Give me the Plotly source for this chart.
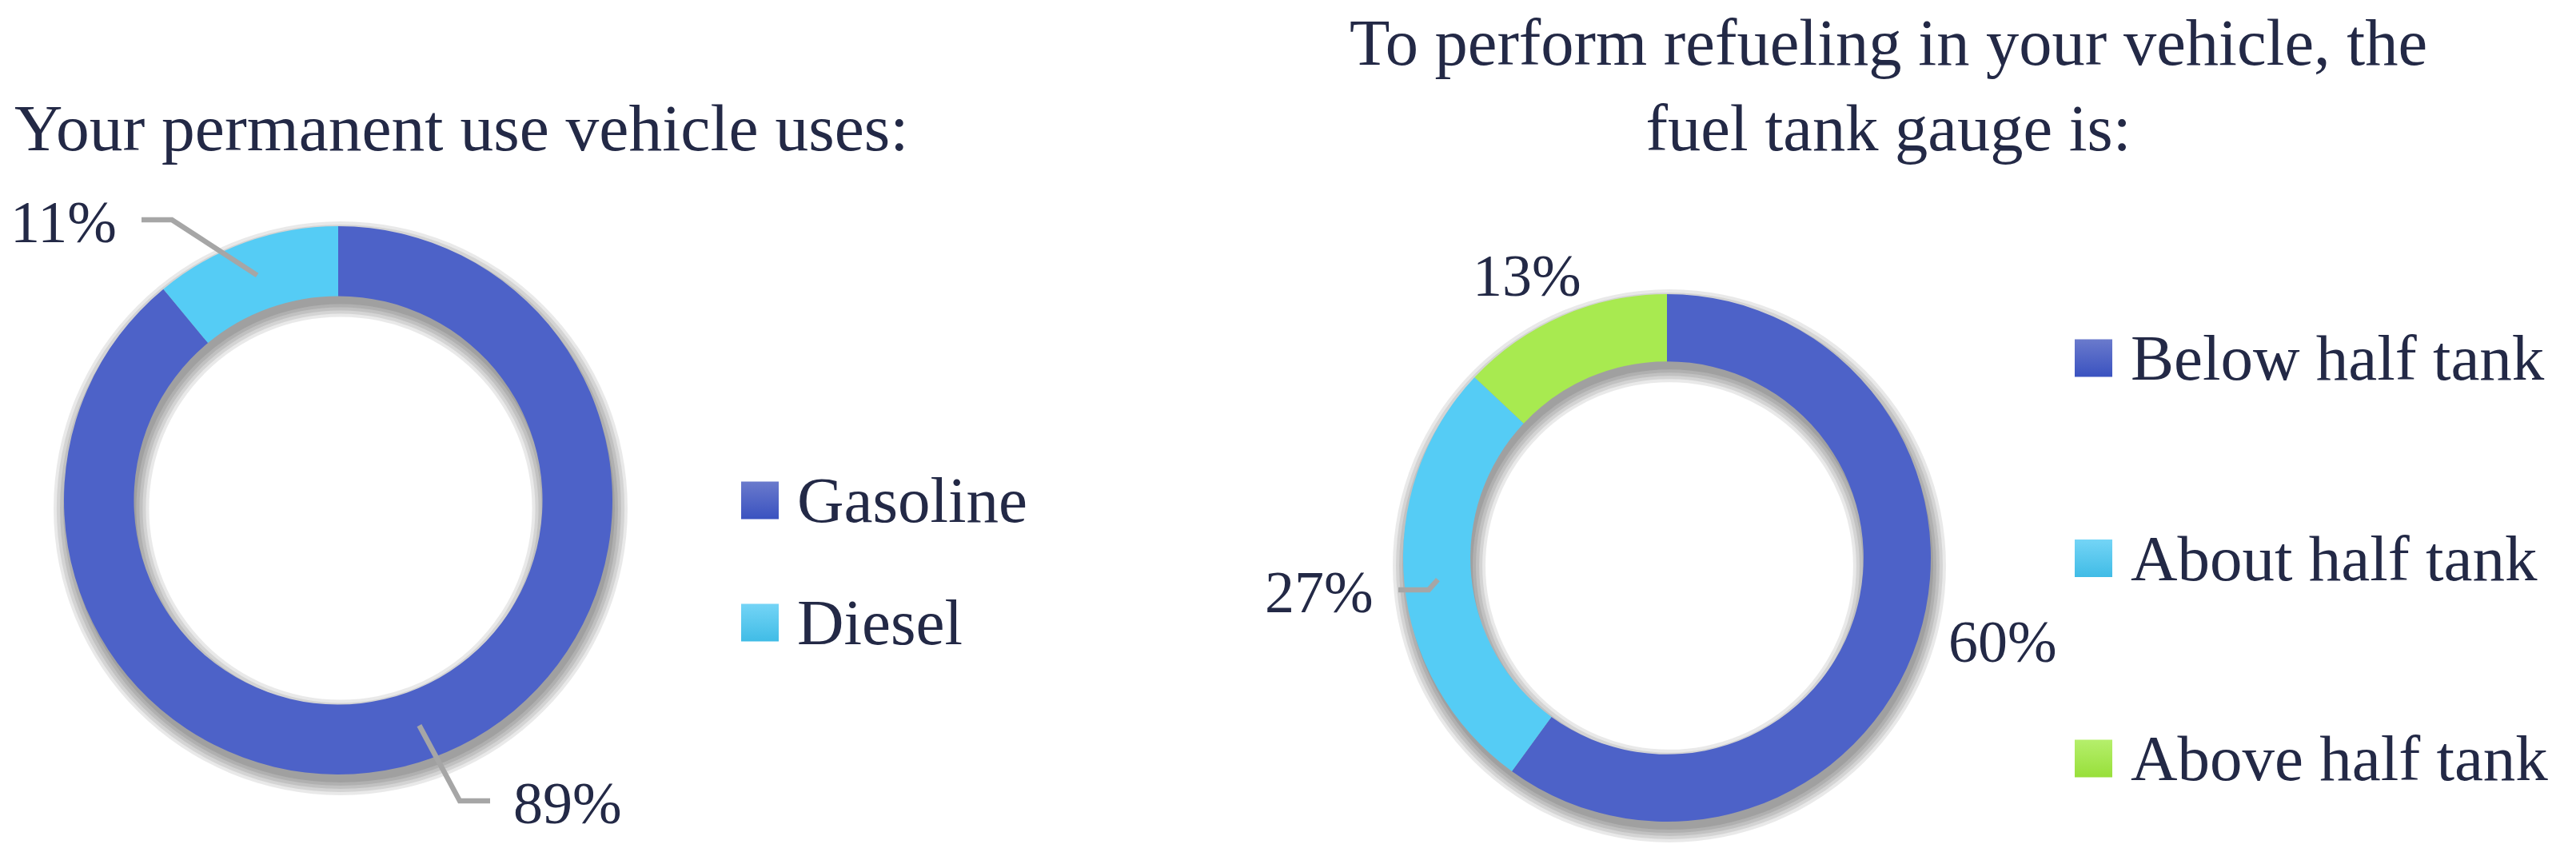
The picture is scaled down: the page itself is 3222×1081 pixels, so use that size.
import math

import plotly.graph_objects as go

W, H = 3222, 1081
OFF = -8            # the page body adds an 8px margin; pull everything back
FONT = "Liberation Serif"
INK = "#232946"
LEADER = "#a6a6a6"

# --- data --------------------------------------------------------------------
fuel_title = "Your permanent use vehicle uses:"
fuel_labels = ["Gasoline", "Diesel"]
fuel_values = [89, 11]

gauge_title = "To perform refueling in your vehicle, the<br>fuel tank gauge is:"
gauge_labels = ["Below half tank", "About half tank", "Above half tank"]
gauge_values = [60, 27, 13]

# --- colours (slice fill, legend chip top -> bottom) -------------------------
BLUE, BLUE_TOP, BLUE_BOT = "#4d62c8", "#6a7acc", "#3a52c0"
CYAN, CYAN_TOP, CYAN_BOT = "#55ccf5", "#74d4f6", "#40bce6"
LIME, LIME_TOP, LIME_BOT = "#a8ea50", "#b5ef6c", "#98df3a"
fuel_colors = [BLUE, CYAN]
gauge_colors = [BLUE, CYAN, LIME]
fuel_chip = [(BLUE_TOP, BLUE_BOT), (CYAN_TOP, CYAN_BOT)]
gauge_chip = [(BLUE_TOP, BLUE_BOT), (CYAN_TOP, CYAN_BOT), (LIME_TOP, LIME_BOT)]

HOLE = 0.745

fig = go.Figure()
shapes, notes = [], []


def dom(cx, cy, r):
    cx, cy = cx + OFF, cy + OFF
    return dict(x=[(cx - r) / W, (cx + r) / W], y=[(H - cy - r) / H, (H - cy + r) / H])


def note(text, x, y, **kw):
    notes.append(dict(text=text, x=x + OFF, y=y + OFF, xref="x", yref="y",
                      showarrow=False, yanchor="middle", **kw))


def donut(labels, values, colors, cx, cy, r):
    # soft drop shadow: a few translucent rings, shifted down a little
    r_in = r * HOLE
    for s in (0, 4, 8, 12, 16):
        ro, ri = r + s, max(r_in - s, 1)
        fig.add_trace(go.Pie(
            values=[sum(values)], labels=["shadow"], hole=ri / ro, sort=False,
            domain=dom(cx + 3, cy + 10, ro), textinfo="none", hoverinfo="skip",
            marker=dict(colors=["rgba(0,0,0,0.085)"], line=dict(width=0)),
            showlegend=False))
    fig.add_trace(go.Pie(
        labels=labels, values=values, hole=HOLE, sort=False, direction="clockwise",
        rotation=0, domain=dom(cx, cy, r), textinfo="none",
        marker=dict(colors=colors, line=dict(width=0)), showlegend=False,
        hovertemplate="%{label}: %{percent}<extra></extra>"))


def mid_point(values, i, cx, cy, rm):
    frac = (sum(values[:i]) + values[i] / 2) / sum(values)
    a = 2 * math.pi * frac
    return cx + rm * math.sin(a), cy - rm * math.cos(a)


def pct_labels(values, places, cx, cy, r):
    rm = r * (1 + HOLE) / 2
    for i, v in enumerate(values):
        x, y, side, leader = places[i]
        note(f"{v}%", x, y, xanchor=side, font=dict(size=74, color=INK))
        if leader:
            sx, sy = mid_point(values, i, cx, cy, rm)
            edge = x + 29 if side == "right" else x - 27
            elbow = edge + 38 if side == "right" else edge - 38
            ly = y - 3
            pts = [(sx, sy), (elbow, ly), (edge, ly)]
            path = "M" + " L".join(f"{px + OFF:.1f},{py + OFF:.1f}" for px, py in pts)
            shapes.append(dict(type="path", xref="x", yref="y", layer="above", path=path,
                               line=dict(color=LEADER, width=6.5)))


def legend(labels, chips, x0, y0, step):
    ys = [y0 + step * i for i in range(len(labels))]
    for (top, bot), y, lab in zip(chips, ys, labels):
        fig.add_trace(go.Scatter(
            x=[x0 + OFF], y=[y + OFF], mode="markers", hoverinfo="skip", showlegend=False,
            marker=dict(symbol="square", size=47, color=top,
                        gradient=dict(type="vertical", color=bot), line=dict(width=0))))
        note(lab, x0 + 44, y, xanchor="left", font=dict(size=81, color=INK))


# --- left: fuel type -----------------------------------------------------------
L_CX, L_CY, L_R = 423, 626, 343
donut(fuel_labels, fuel_values, fuel_colors, L_CX, L_CY, L_R)
pct_labels(fuel_values, [(640, 1005, "left", True), (148, 278, "right", True)],
           L_CX, L_CY, L_R)
legend(fuel_labels, fuel_chip, 950.5, 626, 153)
note(fuel_title, 16, 160, xanchor="left", font=dict(size=83.5, color=INK))

# --- right: tank gauge -------------------------------------------------------
R_CX, R_CY, R_R = 2085, 698, 330
donut(gauge_labels, gauge_values, gauge_colors, R_CX, R_CY, R_R)
pct_labels(gauge_values, [(2435, 803, "left", False), (1720, 741, "right", True),
                          (1840, 345, "left", False)], R_CX, R_CY, R_R)
legend(gauge_labels, gauge_chip, 2618.5, 448, 250.5)
note(gauge_title, 2362, 106, xanchor="center", align="center",
     font=dict(size=82.5, color=INK))

fig.update_layout(
    width=W, height=H, autosize=False,
    margin=dict(l=0, r=0, t=0, b=0),
    paper_bgcolor="white", plot_bgcolor="rgba(0,0,0,0)",
    font=dict(family=FONT, color=INK),
    xaxis=dict(range=[0, W], visible=False, fixedrange=True, domain=[0, 1]),
    yaxis=dict(range=[H, 0], visible=False, fixedrange=True, domain=[0, 1]),
    shapes=shapes, annotations=notes, showlegend=False,
)

fig.write_html("out.html")
